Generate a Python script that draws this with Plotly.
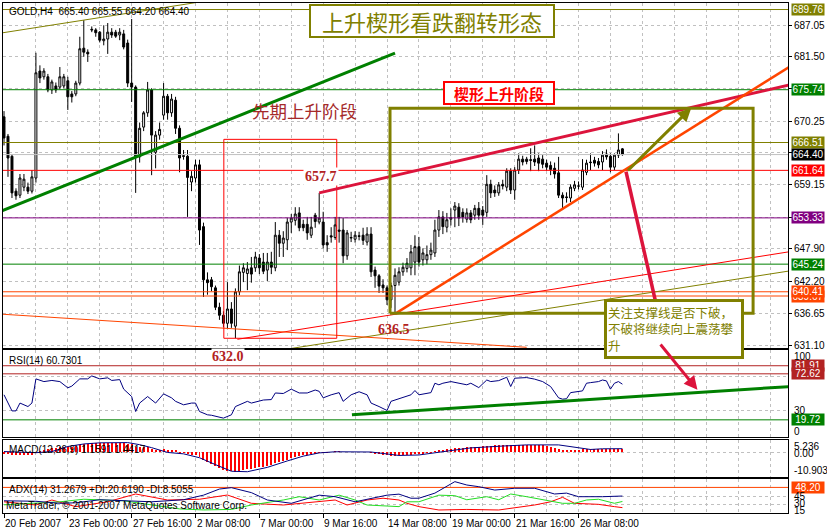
import plotly.graph_objects as go

# ---------------- data ----------------
bars = list(range(156))
opens = [671.0, 667.6, 664.1, 658.0, 657.3, 658.7, 658.7, 658.0, 660.3, 679.0,
         678.0, 678.0, 675.7, 676.4, 676.2, 676.4, 677.3, 675.0, 675.0, 676.9,
         683.0, 682.3, 686.3, 686.2, 685.8, 684.3, 684.6, 685.8, 685.8, 685.3,
         685.5, 683.9, 676.9, 676.2, 664.0, 669.2, 671.7, 675.7, 664.8, 667.8,
         671.3, 674.6, 671.7, 673.9, 669.0, 664.2, 664.1, 659.6, 660.3, 662.6,
         651.8, 642.5, 642.5, 641.1, 637.7, 636.3, 634.9, 637.4, 634.4, 640.4,
         643.8, 643.6, 644.6, 644.6, 646.3, 645.6, 644.2, 645.6, 644.6, 650.3,
         648.9, 649.5, 652.6, 652.9, 654.2, 652.2, 652.2, 650.3, 653.8, 652.6,
         652.6, 649.0, 650.2, 649.9, 651.2, 651.2, 646.7, 649.8, 649.6, 650.2,
         650.3, 649.1, 650.5, 644.2, 643.2, 641.6, 641.1, 639.0, 641.5, 642.1,
         643.9, 644.5, 644.6, 645.6, 648.3, 646.0, 646.0, 646.9, 647.2, 651.2,
         653.5, 651.7, 653.1, 654.7, 655.2, 654.3, 653.1, 654.2, 653.8, 655.0,
         654.7, 654.3, 659.2, 658.2, 657.7, 659.2, 658.7, 661.5, 658.2, 661.7,
         663.6, 663.6, 663.5, 663.6, 663.8, 663.6, 662.9, 662.5, 662.0, 661.2,
         657.3, 657.0, 656.8, 658.5, 658.9, 658.7, 661.3, 663.1, 663.4, 663.2,
         663.1, 664.5, 664.1, 662.2, 664.3, 665.40]
highs = [672.0, 668.0, 664.5, 658.5, 661.0, 661.0, 659.5, 661.7, 682.2, 680.0,
         679.5, 678.5, 677.5, 677.0, 679.7, 678.5, 678.0, 675.5, 677.3, 685.0,
         687.9, 682.8, 686.8, 686.5, 686.0, 687.0, 687.4, 686.5, 686.2, 686.5,
         686.2, 684.5, 688.1, 676.5, 670.0, 672.0, 677.1, 676.0, 668.5, 670.0,
         676.9, 675.0, 675.0, 674.5, 669.5, 665.2, 665.2, 661.5, 663.5, 663.5,
         652.5, 643.8, 643.0, 641.5, 638.5, 637.0, 642.1, 638.6, 641.0, 645.0,
         645.4, 645.6, 646.5, 647.4, 647.0, 647.2, 647.2, 647.4, 652.6, 651.2,
         651.0, 653.3, 654.0, 655.2, 655.2, 653.0, 653.5, 653.5, 654.2, 657.7,
         654.4, 650.3, 651.7, 653.5, 653.5, 653.3, 651.2, 650.9, 651.0, 650.9,
         651.6, 651.7, 651.7, 644.8, 643.5, 642.6, 641.5, 642.0, 644.5, 644.7,
         645.5, 646.3, 648.6, 650.3, 650.0, 648.0, 648.5, 649.0, 653.0, 654.7,
         654.5, 654.2, 655.0, 656.1, 655.9, 655.0, 655.0, 654.7, 655.6, 656.1,
         655.4, 660.8, 660.0, 659.0, 659.6, 660.0, 662.0, 662.0, 662.2, 664.6,
         664.2, 664.0, 665.5, 666.0, 664.6, 664.3, 663.5, 663.2, 663.0, 664.0,
         657.8, 657.8, 659.2, 659.8, 659.7, 663.6, 663.5, 664.6, 664.0, 663.8,
         665.0, 665.3, 664.6, 664.6, 668.1, 665.55]
lows = [666.0, 660.5, 656.8, 656.5, 656.8, 658.0, 657.5, 657.6, 659.5, 676.9,
        677.5, 675.3, 675.0, 675.2, 675.8, 676.0, 672.2, 673.5, 674.6, 676.5,
        681.5, 680.6, 685.8, 685.0, 684.0, 683.5, 682.0, 684.8, 684.8, 684.4,
        682.8, 676.2, 673.6, 657.7, 663.0, 668.5, 671.0, 660.8, 662.0, 667.0,
        670.5, 670.5, 671.0, 668.0, 661.3, 663.5, 653.5, 658.0, 659.5, 648.6,
        639.5, 639.9, 640.5, 637.2, 635.5, 634.2, 634.0, 634.1, 632.3, 639.8,
        642.1, 640.7, 642.0, 643.9, 643.5, 643.5, 642.3, 643.5, 644.0, 646.5,
        646.5, 647.7, 650.7, 652.0, 651.0, 651.0, 649.5, 649.8, 651.6, 652.2,
        648.0, 647.4, 649.0, 649.5, 649.0, 645.4, 646.0, 649.1, 649.0, 649.4,
        648.6, 648.5, 643.0, 641.1, 640.2, 640.2, 638.1, 637.6, 636.5, 641.5,
        643.2, 643.8, 643.3, 643.3, 644.8, 645.0, 645.2, 646.0, 646.5, 650.0,
        650.5, 650.8, 652.0, 651.7, 651.9, 652.5, 652.5, 652.4, 653.0, 653.0,
        652.1, 653.5, 656.8, 657.0, 657.2, 658.3, 658.0, 657.5, 656.5, 661.0,
        662.5, 662.7, 661.5, 662.4, 661.5, 662.0, 661.6, 660.8, 660.2, 656.8,
        654.7, 656.0, 656.1, 658.0, 658.3, 658.2, 660.8, 661.7, 662.3, 662.0,
        661.7, 663.5, 661.3, 661.7, 663.8, 664.20]
closes = [667.3, 663.8, 657.7, 657.2, 660.3, 660.1, 658.0, 660.5, 678.7, 677.8,
          679.0, 675.7, 677.1, 675.7, 678.0, 678.0, 674.5, 674.5, 676.9, 682.9,
          682.3, 682.0, 686.2, 685.7, 684.4, 684.6, 685.8, 685.3, 685.1, 685.8,
          683.2, 676.9, 676.2, 664.0, 669.0, 671.7, 675.7, 667.8, 667.8, 668.8,
          674.6, 671.7, 674.1, 669.0, 663.8, 664.1, 660.4, 660.6, 662.6, 651.2,
          642.5, 642.0, 641.3, 637.7, 636.3, 634.9, 637.4, 634.9, 640.4, 643.9,
          644.6, 644.4, 643.5, 646.5, 644.6, 644.0, 645.6, 644.7, 650.3, 648.9,
          649.8, 652.6, 653.3, 654.0, 651.6, 651.6, 650.7, 651.7, 652.7, 653.3,
          648.6, 648.6, 650.0, 652.1, 651.0, 646.7, 650.7, 649.9, 650.3, 650.1,
          649.4, 650.5, 643.9, 643.2, 641.4, 641.1, 639.0, 641.5, 643.3, 643.9,
          644.7, 645.4, 647.4, 648.3, 645.6, 647.2, 646.9, 647.7, 651.2, 653.5,
          651.8, 653.0, 653.4, 655.4, 653.3, 653.5, 654.2, 653.0, 655.0, 653.8,
          653.8, 659.2, 657.7, 657.7, 659.1, 658.9, 661.5, 658.2, 661.7, 663.6,
          663.1, 663.2, 663.4, 663.1, 662.9, 662.7, 662.2, 661.8, 661.0, 657.3,
          656.8, 656.9, 658.7, 659.1, 658.9, 661.7, 662.9, 663.0, 662.9, 662.6,
          664.3, 664.0, 662.2, 664.3, 665.2, 664.40]

# RSI(14) line vertices (bar index, value)
rsi_bar = [0, 2, 3, 4, 6, 7, 8, 10, 12, 14, 16, 17, 19, 21, 22, 24, 26, 27, 29, 30,
           32, 33, 34, 36, 38, 40, 42, 43, 45, 47, 48, 49, 51, 52, 55, 57, 58, 61, 62, 65,
           67, 68, 70, 72, 74, 76, 78, 79, 80, 82, 84, 85, 87, 89, 91, 92, 94, 96, 97, 99,
           102, 103, 104, 107, 108, 109, 110, 112, 114, 116, 117, 119, 121, 122, 124, 126,
           127, 128, 131, 133, 135, 137, 139, 140, 141, 142, 145, 146, 147, 149, 150, 151,
           152, 153, 154, 155]
rsi_val = [48.5, 30, 30, 39, 35, 39, 66.8, 63.7, 65, 63.7, 56.5, 58.5, 66.8, 66.8, 70.2,
           66.8, 68, 65, 66, 55, 46.5, 29.3, 39, 46.5, 39, 49.6, 45, 41, 37, 39, 39, 29.3,
           25.5, 25, 21.7, 25.5, 35, 41, 39, 42.5, 43, 50.6, 50, 55, 50.6, 50.6, 54, 52.5,
           45, 48.5, 51, 41, 48.5, 52, 48.5, 39, 35, 30.5, 41, 44, 48.5, 53.4, 48.5, 51,
           61.8, 60, 61.8, 63.7, 61.8, 60, 61.8, 56.8, 65.5, 63.7, 64.8, 68.7, 58, 67.6,
           68.3, 66.5, 63.7, 58, 45, 43.5, 44, 51, 53, 61.8, 62.5, 63.7, 65.5, 64.5, 55,
           61.8, 63.7, 60.73]

# MACD(12,26,9) main (histogram, one per bar)
macd_hist = [-0.8, -1.0, -1.3, -1.5, -1.5, -1.4, -1.4, -1.3,
             -0.4, 0.4, 1.0, 1.4, 1.7, 1.9, 2.2,
             2.4, 2.4, 2.4, 2.6, 3.1, 3.4, 3.5, 3.8, 3.9, 3.9, 4.0, 4.0, 4.0, 4.0, 4.0, 3.9, 3.6,
             3.4, 2.4, 2.1, 2.0, 2.1,
             1.4, 1.0, 0.9, 1.1, 0.9, 0.9, 0.5, -0.1, -0.4,
             -0.9, -1.1, -1.2, -2.2, -3.4, -4.4, -5.2, -6.2, -7.0, -7.8,
             -8.2, -8.5, -8.6,
             -8.3, -7.9, -7.6, -7.3, -7.0, -6.7, -6.4, -6.1, -5.6, -5.0, -4.5, -4.0, -3.4, -2.8,
             -2.3, -1.9, -1.5, -1.1, -0.8, -0.5,
             -0.2, -0.1, -0.1, 0.0, 0.1, 0.2, 0.0, 0.0, 0.0, 0.0, 0.0, 0.0, 0.0, -0.4,
             -0.7, -1.0, -1.2, -1.5, -1.7, -1.6, -1.5, -1.4, -1.3, -1.1, -0.9, -0.8, -0.6, -0.4,
             -0.2, 0.3,
             0.7, 1.0, 1.2, 1.5, 1.7, 1.8, 1.9, 2.0, 2.1, 2.2,
             2.3, 2.6, 2.7, 2.8, 2.9, 2.9, 3.0, 3.1, 3.0, 3.1, 3.2, 3.2, 3.2, 3.1, 3.1, 3.0, 2.9,
             2.6, 2.3, 1.9, 1.3, 1.0, 0.9, 0.9, 0.9, 0.9, 1.1, 1.3, 1.4, 1.4, 1.4, 1.5, 1.5,
             1.3, 1.3, 1.3, 1.16]
# MACD signal line vertices
sig_bar = [0, 8, 12, 16, 20, 24, 31, 34, 37, 41, 45, 49, 53, 57, 61, 66, 71, 75, 79, 83,
           92, 96, 99, 104, 109, 112, 117, 125, 131, 139, 144, 147, 150, 155]
sig_val = [0.2, -0.3, 0.2, 2.4, 3.5, 4.0, 4.1, 3.2, 1.9, -0.2, -0.8, -2.5, -5.5, -8.4, -8.6,
           -6.7, -3.9, -1.8, -0.4, 0.1, 0.0, -1.0, -1.5, -1.3, 0.0, 0.8, 1.8, 2.6, 3.1, 3.1,
           1.9, 1.1, 1.4, 1.44]

# ADX(14) vertices
adx_bar = [0, 8, 14, 18, 24, 33, 37, 45, 50, 54, 57, 62, 66, 72, 79, 83, 88, 96, 99, 102,
           104, 108, 113, 116, 119, 123, 128, 133, 136, 138, 141, 144, 150, 155]
adx_val = [22, 21, 17, 18, 24, 22, 20, 24, 33, 45, 47.7, 38, 23.5, 17, 33, 30, 20, 33, 35,
           27, 27, 37, 59.5, 52.9, 49.6, 43, 46.5, 46.5, 40, 35.3, 37, 30, 30, 31.27]
pdi_bar = [0, 8, 14, 20, 30, 36, 44, 50, 57, 62, 70, 74, 79, 84, 88, 91, 99, 101, 104, 109,
           113, 116, 121, 124, 127, 131, 136, 140, 143, 146, 149, 153, 155]
pdi_val = [14, 18, 20, 25, 22, 15, 6, 4, 5, 13.7, 23.5, 30, 23.5, 33, 23.5, 13.7, 10.5, 20,
           20, 33, 32, 24, 30, 24, 35.3, 30, 23.5, 17, 17, 23.5, 25, 17, 20.62]
mdi_bar = [0, 8, 12, 18, 26, 33, 41, 49, 56, 62, 70, 79, 83, 86, 91, 95, 99, 101, 104, 109,
           116, 124, 133, 137, 140, 143, 149, 153, 155]
mdi_val = [20, 13.7, 23.5, 10.5, 20, 35.3, 23.5, 25, 33.3, 17, 13.7, 20, 23.5, 13.7, 23.5,
           27, 23.5, 17, 10.5, 3.9, 5, 3.9, 13.7, 20, 28.8, 17, 15, 10.5, 8.51]

# price-axis grid / labels
price_ticks = [631.10, 636.65, 642.20, 647.90, 653.45, 659.15, 664.70, 670.25, 675.90, 681.50, 687.05]
price_tick_text = ['631.10', '636.65', '642.20', '647.90', '', '659.15', '', '670.25', '', '681.50', '687.05']

# horizontal level lines in the price chart
level_vals = [689.76, 675.74, 666.51, 664.40, 661.64, 653.33, 645.24, 639.67, 640.41]
level_line_colors = ['#808000', '#008000', '#808000', '#C0C0C0', '#FF0000', '#800080', '#008000', '#FF4500', '#FF4500']
level_box_colors = ['#808000', '#008000', '#808000', '#000000', '#FF0000', '#800080', '#008000', '#FF4500', '#FF4500']

rsi_levels = [81.91, 72.62, 19.72]
rsi_level_colors = ['#B22222', '#B22222', '#008000']
adx_level = 48.20

# trend objects (bar index, price)
olive_ray_x, olive_ray_y = [-0.75, 60], [685.65, 692.27]
olive_low_x, olive_low_y = [60, 196.75], [629.2, 644.04]
red_thin_x, red_thin_y = [58.5, 196.75], [632.1, 647.4]
orange_thin_x, orange_thin_y = [-0.75, 131], [636.5, 630.7]
green_up_x, green_up_y = [-0.75, 98], [654.5, 682.15]
wedge_top_x, wedge_top_y = [79, 196.75], [657.7, 676.56]
wedge_bot_x, wedge_bot_y = [98, 196.75], [636.55, 679.7]
olive_box_x = [96.75, 187.75, 187.75, 96.75, 96.75]
olive_box_y = [636.65, 636.65, 672.49, 672.49, 636.65]
red_box_x = [55.1, 83.4, 83.4, 55.1, 55.1]
red_box_y = [632.28, 632.28, 667.06, 667.06, 632.28]
down_x, down_y = [155.9, 163.5], [661.4, 638.1]
rsi_trend_x, rsi_trend_y = [87.2, 196.75], [25.5, 57.96]

time_bars = [0, 16, 32, 48, 64, 80, 96, 112, 128, 144]
time_labels = ['20 Feb 2007', '23 Feb 00:00', '27 Feb 16:00', '2 Mar 08:00', '7 Mar 00:00',
               '9 Mar 16:00', '14 Mar 08:00', '19 Mar 00:00', '21 Mar 16:00', '26 Mar 08:00']
grid_bars = list(range(8, 197, 8))

# ---------------- figure ----------------
FONT = 'Liberation Sans, Arial, sans-serif'
CJK = 'Noto Sans CJK SC, sans-serif'
TOP, BOT, H = 3, 513, 510


def py(ypx):
    return (BOT - ypx) / H


fig = go.Figure()

fig.add_trace(go.Candlestick(
    x=bars, open=opens, high=highs, low=lows, close=closes,
    increasing=dict(line=dict(color='black', width=1), fillcolor='white'),
    decreasing=dict(line=dict(color='black', width=1), fillcolor='black'),
    whiskerwidth=0, hoverinfo='skip', showlegend=False, xaxis='x', yaxis='y'))


def line(xs, ys, color, width, ax='', dash=None):
    fig.add_trace(go.Scatter(x=xs, y=ys, mode='lines', hoverinfo='skip', showlegend=False,
                             line=dict(color=color, width=width, dash=dash),
                             xaxis='x' + ax, yaxis='y' + ax))


for v, c in zip(level_vals, level_line_colors):
    line([-1, 200], [v, v], c, 1)
line(olive_ray_x, olive_ray_y, '#808000', 1)
line(olive_low_x, olive_low_y, '#808000', 1)
line(red_thin_x, red_thin_y, '#FF0000', 1)
line(orange_thin_x, orange_thin_y, '#FF4500', 1)
line(red_box_x, red_box_y, '#FF0000', 1)
line(green_up_x, green_up_y, '#008000', 3)
line(wedge_top_x, wedge_top_y, '#DC143C', 3)
line(wedge_bot_x, wedge_bot_y, '#FF4500', 2.5)
line(olive_box_x, olive_box_y, '#808000', 3)
line(down_x, down_y, '#DC143C', 3.5)

# RSI panel
for v, c in zip(rsi_levels, rsi_level_colors):
    line([-1, 200], [v, v], c, 1, '2')
line(rsi_bar, rsi_val, '#000080', 1, '2')
line(rsi_trend_x, rsi_trend_y, '#008000', 3, '2')

# MACD panel
fig.add_trace(go.Bar(x=bars, y=macd_hist, width=0.25, marker=dict(color='#FF0000', line=dict(width=0)),
                     hoverinfo='skip', showlegend=False, xaxis='x3', yaxis='y3'))
line(sig_bar, sig_val, '#000080', 1, '3')

# ADX panel
line([-1, 200], [adx_level, adx_level], '#FF4500', 1, '4')
line(mdi_bar, mdi_val, '#FF0000', 1, '4')
line(pdi_bar, pdi_val, '#22DD22', 1, '4')
line(adx_bar, adx_val, '#000080', 1, '4')

grid = dict(gridcolor='#C0C0C0', griddash='3px,3px', gridwidth=1)
xcommon = dict(range=[-0.25, 196.5], showline=True, mirror=True, linecolor='black', linewidth=1,
               zeroline=False, fixedrange=True)
xgrid = dict(xcommon, tickmode='array', tickvals=grid_bars, showticklabels=False, ticks='', showgrid=True, **grid)
ycommon = dict(side='right', showline=True, mirror=True, linecolor='black', linewidth=1, zeroline=False,
               fixedrange=True, showgrid=True, **grid)

fig.update_layout(
    width=827, height=530, margin=dict(l=2, r=38, t=TOP, b=530 - BOT),
    paper_bgcolor='white', plot_bgcolor='white', showlegend=False,
    font=dict(family=FONT, size=10, color='black'),
    xaxis=dict(xgrid, anchor='y', rangeslider=dict(visible=False)),
    xaxis2=dict(xgrid, anchor='y2', matches='x'),
    xaxis3=dict(xgrid, anchor='y3', matches='x'),
    xaxis4=dict(xcommon, anchor='y4', matches='x', tickmode='array', tickvals=time_bars,
                showticklabels=False, ticks='outside', ticklen=4, tickcolor='black', showgrid=False,
                minor=dict(tickmode='array', tickvals=grid_bars, showgrid=True, ticks='', **grid)),
    yaxis=dict(ycommon, domain=[py(348), 1], range=[630.58, 690.90], tickmode='array',
               tickvals=price_ticks, ticktext=price_tick_text, ticks='outside', ticklen=3,
               tickcolor='black', tickfont=dict(size=10)),
    yaxis2=dict(ycommon, domain=[py(437), py(350)], range=[0, 100], tickmode='array', tickvals=[30, 70],
                showticklabels=False, ticks=''),
    yaxis3=dict(ycommon, domain=[py(477), py(440)], range=[-10.903, 5.236], tickmode='array', tickvals=[0],
                showticklabels=False, ticks=''),
    yaxis4=dict(ycommon, domain=[0, py(479)], range=[-2, 64.7], tickmode='array', tickvals=[15, 30],
                showticklabels=False, ticks=''),
    bargap=0,
)

ann = []
# coloured value boxes on the price scale
for v, c in zip(level_vals, level_box_colors):
    ann.append(dict(x=1, xref='paper', xanchor='left', xshift=3, y=v, yref='y', yanchor='middle',
                    text=f'{v:.2f}', showarrow=False, bgcolor=c, font=dict(color='white', size=10),
                    width=32, height=11, borderpad=0))
for v, c in zip(rsi_levels, rsi_level_colors):
    ann.append(dict(x=1, xref='paper', xanchor='left', xshift=3, y=v, yref='y2', yanchor='middle',
                    text=f'{v:.2f}', showarrow=False, bgcolor=c, font=dict(color='white', size=10),
                    width=32, height=11, borderpad=0))
ann.append(dict(x=1, xref='paper', xanchor='left', xshift=3, y=adx_level, yref='y4', yanchor='middle',
                text=f'{adx_level:.2f}', showarrow=False, bgcolor='#FF4500', font=dict(color='white', size=10),
                width=32, height=11, borderpad=0))
# plain scale labels of the indicator panels
for txt, ypx in [('100', 356), ('30', 410), ('0', 431), ('5.236', 446), ('0.00', 453),
                 ('-10.903', 470), ('45', 496), ('30', 503), ('15', 510)]:
    ann.append(dict(x=1, xref='paper', xanchor='left', xshift=4, y=py(ypx), yref='paper',
                    yanchor='middle', text=txt, showarrow=False, font=dict(size=10)))
# time axis labels
for b, t in zip(time_bars, time_labels):
    ann.append(dict(x=b, xref='x4', xanchor='left', xshift=-1, y=py(523), yref='paper', yanchor='middle',
                    text=t, showarrow=False, font=dict(size=10)))
# panel captions
for txt, xpx, ypx in [('GOLD,H4  665.40 665.55 664.20 664.40', 6, 11),
                      ('RSI(14) 60.7301', 6, 360),
                      ('MACD(12,26,9) 1.1591 1.4417', 6, 449),
                      ('ADX(14) 31.2679 +DI:20.6190 -DI:8.5055', 6, 489),
                      ('MetaTrader, © 2001-2007 MetaQuotes Software Corp.', 3, 505)]:
    ann.append(dict(x=0, xref='paper', xanchor='left', xshift=xpx - 2, y=py(ypx), yref='paper',
                    yanchor='middle', text=txt, showarrow=False, font=dict(size=10)))

# chart texts
ann.append(dict(x=107.25, y=687.75, xref='x', yref='y', text='上升楔形看跌翻转形态', showarrow=False,
                font=dict(family=CJK, size=22, color='#808000'), bgcolor='white', bordercolor='#808000',
                borderwidth=2, width=240, height=28, borderpad=1))
ann.append(dict(x=124, y=675.16, xref='x', yref='y', text='<b>楔形上升阶段</b>', showarrow=False,
                font=dict(family=CJK, size=15, color='#FF0000'), bgcolor='white', bordercolor='#FF0000',
                borderwidth=2, width=106, height=18, borderpad=1))
ann.append(dict(x=75.25, y=672.19, xref='x', yref='y', text='先期上升阶段', showarrow=False,
                font=dict(family=CJK, size=17.5, color='#A52A2A')))
ann.append(dict(x=150.5, y=639.15, xref='x', yref='y', xanchor='left', yanchor='top',
                text='关注支撑线是否下破，<br>不破将继续向上震荡攀<br>升', align='left', showarrow=False,
                font=dict(family=CJK, size=12.5, color='#808000'), bgcolor='white', bordercolor='#808000',
                borderwidth=3, borderpad=1, width=132))
serif = dict(family='Liberation Serif, serif', size=14, color='#B22222')
ann.append(dict(x=79.5, y=660.5, xref='x', yref='y', text='<b>657.7</b>', showarrow=False,
                font=serif, bgcolor='white', borderpad=1))
ann.append(dict(x=56.25, y=py(352), xref='x', yref='paper', yanchor='middle', yshift=-4,
                text='<b>632.0</b>', showarrow=False, font=serif, bgcolor='white', borderpad=0))
ann.append(dict(x=97.75, y=633.73, xref='x', yref='y', text='<b>636.5</b>', showarrow=False,
                font=serif))
# arrows
ann.append(dict(x=172.25, y=672.55, ax=156, ay=661.35, xref='x', yref='y', axref='x', ayref='y',
                text='', showarrow=True, arrowhead=2, arrowsize=0.9, arrowwidth=3, arrowcolor='#808000'))
ann.append(dict(x=173.8, y=54.2, ax=164.25, ay=108, xref='x2', yref='y2', axref='x2', ayref='y2',
                text='', showarrow=True, arrowhead=2, arrowsize=0.9, arrowwidth=3, arrowcolor='#DC143C'))

fig.update_layout(annotations=ann)
fig.write_html('out.html', config={'displayModeBar': False},
               post_script="document.body.style.margin='0px';document.body.style.overflow='hidden';")
